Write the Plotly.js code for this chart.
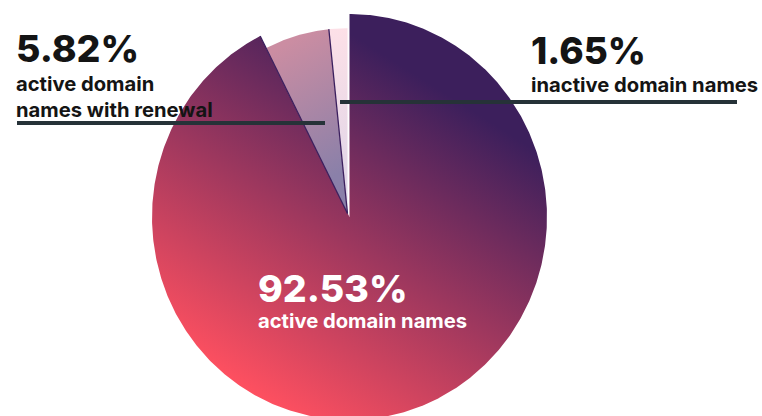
<!DOCTYPE html>
<html><head><meta charset="utf-8">
<script src="https://cdn.plot.ly/plotly-3.0.1.min.js"></script>
<style>html,body{margin:0;padding:0;background:#fff}#chart{width:762px;height:416px}</style>
</head><body><div id="chart"></div>
<script>
// ---- data ----
const categories = ['active domain names', 'active domain names with renewal', 'inactive domain names'];
const values = [92.53, 5.82, 1.65];
const percentLabels = ['92.53%', '5.82%', '1.65%'];
const labelLines = [['active domain names'], ['active domain', 'names with renewal'], ['inactive domain names']];

// ---- geometry / style (not data) ----
const C = {x: 349.5, y: 217, rx: 197.5, ry: 203};
const sliceScale = [1, 0.913, 0.913];
const sliceOffset = [[0, 0], [-2, -3.5], [-2, -3.5]];
const FONT = 'Inter, "Open Sans", sans-serif';

const total = values.reduce((a, b) => a + b, 0);
const cum = [0];
values.forEach(v => cum.push(cum[cum.length - 1] + v / total));

function arcPt(f, s, ox, oy) {
  const th = 2 * Math.PI * f;
  return [C.x + ox + C.rx * s * Math.sin(th), C.y + oy - C.ry * s * Math.cos(th)];
}
function slicePath(i) {
  const f0 = cum[i], f1 = cum[i + 1], s = sliceScale[i], [ox, oy] = sliceOffset[i];
  const xs = [C.x + ox], ys = [C.y + oy];
  const n = Math.max(4, Math.ceil((f1 - f0) * 720));
  for (let k = 0; k <= n; k++) {
    const p = arcPt(f0 + (f1 - f0) * k / n, s, ox, oy);
    xs.push(p[0]); ys.push(p[1]);
  }
  xs.push(C.x + ox); ys.push(C.y + oy);
  return {xs, ys};
}

const fallback = ['#9a3560', '#a884a5', '#efdde6'];
const data = values.map((v, i) => {
  const p = slicePath(i);
  return {type: 'scatter', x: p.xs, y: p.ys, mode: 'lines', fill: 'toself',
    fillcolor: fallback[i], line: {width: 0}, hoverinfo: 'text', text: categories[i], name: categories[i]};
});
// thin dark edges of the small slices
[1, 2].forEach(i => {
  const [ox, oy] = sliceOffset[i];
  const p = i === 1 ? arcPt(cum[i], 1, 0, 0) : arcPt(cum[i], sliceScale[i], ox, oy);
  data.push({type: 'scatter', x: [C.x + ox, p[0]], y: [C.y + oy, p[1]], mode: 'lines',
    line: {color: '#3b1f5e', width: 1.3}, hoverinfo: 'skip'});
});

const dark = '#141414';
const layout = {
  width: 762, height: 416,
  margin: {l: 0, r: 0, t: 0, b: 0},
  paper_bgcolor: '#ffffff', plot_bgcolor: '#ffffff',
  showlegend: false,
  xaxis: {range: [0, 762], visible: false, fixedrange: true},
  yaxis: {range: [416, 0], visible: false, fixedrange: true},
  shapes: [
    {type: 'line', xref: 'x', yref: 'y', x0: 17, x1: 325, y0: 123, y1: 123, line: {color: '#263238', width: 4}},
    {type: 'line', xref: 'x', yref: 'y', x0: 340, x1: 737, y0: 102, y1: 102, line: {color: '#263238', width: 4}}
  ],
  annotations: [
    {x: 14, y: 48.3, xref: 'x', yref: 'y', xanchor: 'left', yanchor: 'middle', showarrow: false,
     text: percentLabels[1], font: {family: FONT, size: 37.5, weight: 800, color: dark}},
    {x: 14, y: 96.5, xref: 'x', yref: 'y', xanchor: 'left', yanchor: 'middle', align: 'left', showarrow: false,
     text: labelLines[1].join('<br>'), font: {family: FONT, size: 20.2, weight: 700, color: dark}},
    {x: 529, y: 50, xref: 'x', yref: 'y', xanchor: 'left', yanchor: 'middle', showarrow: false,
     text: percentLabels[2], font: {family: FONT, size: 37, weight: 800, color: dark}},
    {x: 529, y: 84, xref: 'x', yref: 'y', xanchor: 'left', yanchor: 'middle', showarrow: false,
     text: labelLines[2].join('<br>'), font: {family: FONT, size: 20.2, weight: 700, color: dark}},
    {x: 256, y: 288, xref: 'x', yref: 'y', xanchor: 'left', yanchor: 'middle', showarrow: false,
     text: percentLabels[0], font: {family: FONT, size: 37.5, weight: 800, color: '#ffffff'}},
    {x: 256, y: 320, xref: 'x', yref: 'y', xanchor: 'left', yanchor: 'middle', showarrow: false,
     text: labelLines[0].join('<br>'), font: {family: FONT, size: 20.2, weight: 700, color: '#ffffff'}}
  ]
};

const gradients = [
  {x1: 432, y1: 85, x2: 241, y2: 388, stops: [[0, '#3c1f5c'], [1, '#ff5060']]},
  {x1: 275, y1: 50, x2: 345, y2: 170, stops: [[0, '#cb8da2'], [1, '#8a80a9']]},
  {x1: 322, y1: 30, x2: 350, y2: 200, stops: [[0, '#fde0e7'], [1, '#ddd5e8']]}
];

const gd = document.getElementById('chart');
Plotly.newPlot(gd, data, layout, {staticPlot: true, displayModeBar: false}).then(() => {
  const ns = 'http://www.w3.org/2000/svg';
  const svg = gd.querySelector('svg.main-svg');
  let defs = svg.querySelector('defs');
  if (!defs) { defs = document.createElementNS(ns, 'defs'); svg.insertBefore(defs, svg.firstChild); }
  const traces = gd.querySelectorAll('.scatterlayer .trace');
  gradients.forEach((g, i) => {
    const lg = document.createElementNS(ns, 'linearGradient');
    const id = 'slicegrad' + i;
    lg.setAttribute('id', id);
    lg.setAttribute('gradientUnits', 'userSpaceOnUse');
    ['x1', 'y1', 'x2', 'y2'].forEach(k => lg.setAttribute(k, g[k]));
    g.stops.forEach(s => {
      const st = document.createElementNS(ns, 'stop');
      st.setAttribute('offset', s[0]);
      st.setAttribute('stop-color', s[1]);
      lg.appendChild(st);
    });
    defs.appendChild(lg);
    const path = traces[i] && traces[i].querySelector('path.js-fill');
    if (path) path.style.fill = 'url(#' + id + ')';
  });
});
</script>
</body></html>
